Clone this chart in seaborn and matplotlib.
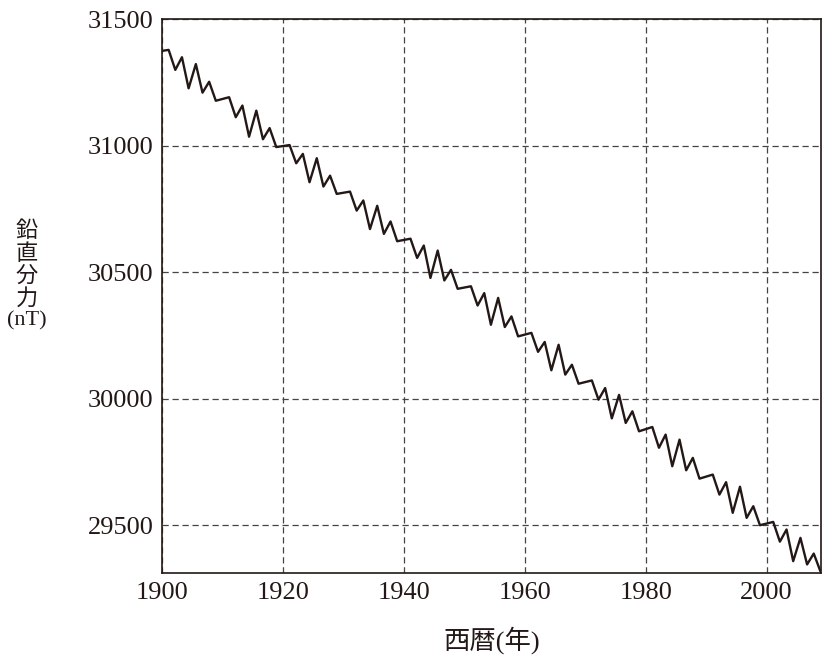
import matplotlib
matplotlib.use("Agg")
import matplotlib.pyplot as plt
import seaborn as sns
import pandas as pd

# ---------------- data ----------------
years = [
    1900.0,
    1901.1, 1902.2, 1903.3, 1904.4, 1905.6, 1906.7, 1907.8, 1908.9,
    1911.1, 1912.2, 1913.3, 1914.4, 1915.6, 1916.7, 1917.8, 1918.9,
    1921.1, 1922.2, 1923.3, 1924.4, 1925.6, 1926.7, 1927.8, 1928.9,
    1931.1, 1932.2, 1933.3, 1934.4, 1935.6, 1936.7, 1937.8, 1938.9,
    1941.1, 1942.2, 1943.3, 1944.4, 1945.6, 1946.7, 1947.8, 1948.9,
    1951.1, 1952.2, 1953.3, 1954.4, 1955.6, 1956.7, 1957.8, 1958.9,
    1961.1, 1962.2, 1963.3, 1964.4, 1965.6, 1966.7, 1967.8, 1968.9,
    1971.1, 1972.2, 1973.3, 1974.4, 1975.6, 1976.7, 1977.8, 1978.9,
    1981.1, 1982.2, 1983.3, 1984.4, 1985.6, 1986.7, 1987.8, 1988.9,
    1991.1, 1992.2, 1993.3, 1994.4, 1995.6, 1996.7, 1997.8, 1998.9,
    2001.1, 2002.2, 2003.3, 2004.4, 2005.6, 2006.7, 2007.8, 2008.9,
]
vertical_nT = [
    31374,
    31378, 31299, 31349, 31226, 31322, 31209, 31252, 31177,
    31191, 31112, 31158, 31035, 31138, 31025, 31069, 30994,
    31002, 30930, 30967, 30855, 30950, 30838, 30881, 30809,
    30818, 30743, 30783, 30670, 30762, 30651, 30700, 30622,
    30632, 30556, 30605, 30477, 30585, 30467, 30509, 30434,
    30444, 30368, 30417, 30292, 30398, 30283, 30325, 30246,
    30260, 30185, 30224, 30112, 30213, 30095, 30134, 30059,
    30072, 29996, 30042, 29922, 30015, 29904, 29950, 29871,
    29888, 29806, 29858, 29733, 29838, 29717, 29766, 29684,
    29700, 29621, 29670, 29549, 29652, 29529, 29575, 29500,
    29513, 29435, 29483, 29358, 29450, 29345, 29388, 29318,
]
x_ticks = [1900, 1920, 1940, 1960, 1980, 2000]
y_ticks = [29500, 30000, 30500, 31000, 31500]
x_label = "西暦(年)"
y_label = "鉛\n直\n分\n力\n(nT)"

INK = "#231815"

sns.set_theme(style="white")
plt.rcParams["font.family"] = ["Liberation Serif", "Noto Sans CJK JP", "DejaVu Sans"]

W, H = 823, 658
fig = plt.figure(figsize=(W / 100, H / 100), dpi=100)
left, right, top, bottom = 162, 821, 19, 573.3
ax = fig.add_axes([left / W, 1 - bottom / H, (right - left) / W, (bottom - top) / H])

df = pd.DataFrame({"year": years, "value": vertical_nT})
sns.lineplot(data=df, x="year", y="value", ax=ax, color=INK, linewidth=1.7,
             estimator=None, sort=False, zorder=3)

ax.set_xlim(1900, 2009)
ax.set_ylim(29310, 31500)
ax.set_xticks(x_ticks)
ax.set_yticks(y_ticks)
ax.set_xticklabels([str(v) for v in x_ticks])
ax.set_yticklabels([str(v) for v in y_ticks])
ax.tick_params(length=0, labelsize=19, pad=6, colors=INK)
ax.set_xlabel("")
ax.set_ylabel("")

for s in ax.spines.values():
    s.set_visible(True)
    s.set_color(INK)
    s.set_linewidth(1.2)

ax.grid(True, linestyle=(0, (5, 3)), linewidth=0.9, color="#444444")
ax.set_axisbelow(True)

fig.text(27 / W, 1 - 276 / H, y_label, ha="center", va="center", fontsize=16,
         linespacing=1.12, color=INK)
fig.text(491.5 / W, 1 - 640 / H, x_label, ha="center", va="center", fontsize=19,
         color=INK)

fig.savefig("out.png", dpi=100)
